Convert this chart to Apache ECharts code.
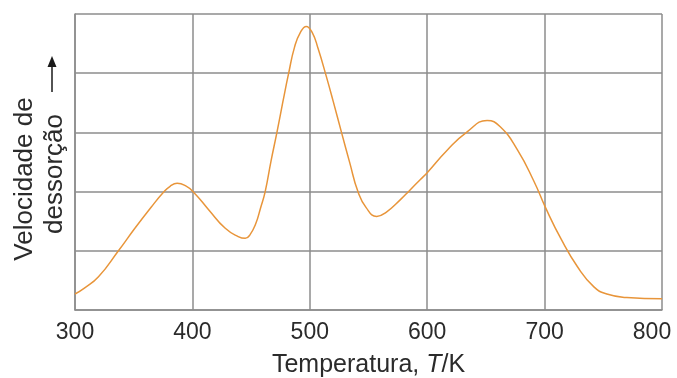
<!DOCTYPE html>
<html>
<head>
<meta charset="utf-8">
<script src="https://cdn.jsdelivr.net/npm/echarts@6/dist/echarts.min.js"></script>
<style>html,body{margin:0;padding:0;background:#fff}#c{width:677px;height:378px}</style>
</head>
<body>
<div id="c"></div>
<script>
var temperatures = [300,308,320,337,351,365,375,381,387,394,401,414,428,439,445,449,454,458,462,467,472,477,482,487,492,497,502,507,514,520,527,534,541,548,557,565,577,585,594,600,617,634,651,662,677,691,701,714,728,742,753,770,800];
var rates = [0.27,0.37,0.56,1.0,1.38,1.74,1.98,2.09,2.14,2.10,1.99,1.69,1.38,1.24,1.21,1.27,1.46,1.72,2.0,2.52,3.0,3.51,4.0,4.44,4.69,4.79,4.69,4.42,3.95,3.52,3.0,2.49,2.0,1.73,1.58,1.65,1.86,2.02,2.2,2.32,2.7,3.01,3.2,3.1,2.7,2.17,1.72,1.2,0.73,0.39,0.27,0.21,0.19];
var xTicks = [300,400,500,600,700,800];

var data = temperatures.map(function(t,i){return [t, rates[i]];});
var FONT = 'Liberation Sans';
var TXT = '#2b2b2b';
var chart = echarts.init(document.getElementById('c'), null, {renderer:'canvas'});
chart.setOption({
  animation:false,
  backgroundColor:'#fff',
  grid:{left:75,right:15,top:14,bottom:68,containLabel:false,outerBoundsMode:'none'},
  xAxis:{
    type:'value',min:300,max:800,interval:100,
    axisLine:{show:true,lineStyle:{color:'#8c8c8c',width:1.5}},
    axisTick:{show:false},
    splitLine:{show:true,lineStyle:{color:'#8c8c8c',width:1.5}},
    axisLabel:{fontSize:23,color:TXT,fontFamily:FONT,margin:11,
      formatter:function(v){
        if(xTicks.indexOf(v)<0) return '';
        return v===xTicks[xTicks.length-1] ? '{r|'+v+'}' : String(v);
      },
      rich:{r:{fontSize:23,color:TXT,fontFamily:FONT,padding:[0,20,0,0]}}
    },
    name:'{a|Temperatura, }{b|T}{a|/K}',
    nameLocation:'middle',nameGap:43,
    nameTextStyle:{rich:{
      a:{fontSize:25,color:TXT,fontFamily:FONT},
      b:{fontSize:25,color:TXT,fontFamily:FONT,fontStyle:'italic'}
    }}
  },
  yAxis:{
    type:'value',min:0,max:5,interval:1,
    axisLine:{show:true,lineStyle:{color:'#8c8c8c',width:1.5}},
    axisTick:{show:false},
    axisLabel:{show:false},
    splitLine:{show:true,lineStyle:{color:'#8c8c8c',width:1.5}}
  },
  series:[{
    type:'line',data:data,smooth:0.5,showSymbol:false,symbol:'none',
    lineStyle:{color:'#e8953a',width:1.5}
  }],
  graphic:[
    {type:'text',x:25,y:179,rotation:Math.PI/2,
      style:{text:'Velocidade de',fontSize:26,fontFamily:FONT,fill:TXT,align:'center',verticalAlign:'middle'}},
    {type:'text',x:55,y:174,rotation:Math.PI/2,
      style:{text:'dessorção',fontSize:26,fontFamily:FONT,fill:TXT,align:'center',verticalAlign:'middle'}},
    {type:'line',shape:{x1:52,y1:92,x2:52,y2:64},style:{stroke:'#1a1a1a',lineWidth:1.5}},
    {type:'polygon',shape:{points:[[52,56],[47.5,67],[56.5,67]]},style:{fill:'#1a1a1a'}}
  ]
});
</script>
</body>
</html>
